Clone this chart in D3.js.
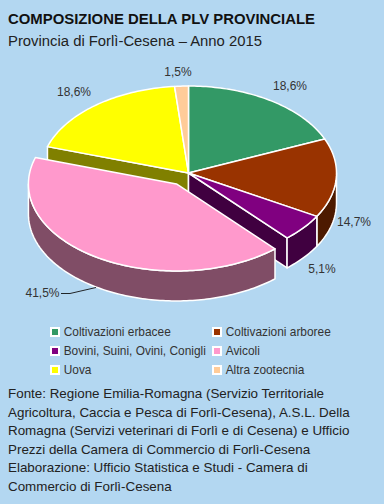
<!DOCTYPE html>
<html><head><meta charset="utf-8">
<script src="https://cdn.jsdelivr.net/npm/d3@7"></script>
<style>html,body{margin:0;padding:0;background:#b3d7f1}svg{display:block}text{font-family:"Liberation Sans",Arial,sans-serif}</style>
</head><body><svg id="c" width="384" height="504"></svg>
<script>
const categories=["Coltivazioni erbacee","Coltivazioni arboree","Bovini, Suini, Ovini, Conigli","Avicoli","Uova","Altra zootecnia"];
const values=[18.6,14.7,5.1,41.5,18.6,1.5];
const valueLabels=["18,6%","14,7%","5,1%","41,5%","18,6%","1,5%"];
const topColors=["#339966","#993300","#800080","#ff99cc","#ffff00","#ffcc99"];
const sideColors=["#1a4d33","#4d1a00","#400040","#804d66","#808000","#806650"];
const explode=[0,0,0,0.15,0,0];
const titleText="COMPOSIZIONE DELLA PLV PROVINCIALE";
const subtitleText="Provincia di Forlì-Cesena – Anno 2015";
const sourceLines=["Fonte: Regione Emilia-Romagna (Servizio Territoriale","Agricoltura, Caccia e Pesca di Forlì-Cesena), A.S.L. Della","Romagna (Servizi veterinari di Forlì e di Cesena) e Ufficio","Prezzi della Camera di Commercio di Forlì-Cesena","Elaborazione: Ufficio Statistica e Studi - Camera di","Commercio di Forlì-Cesena"];

const svg=d3.select("#c");
svg.append("rect").attr("width",384).attr("height",504).attr("fill","#b3d7f1");
const cx=188.5,cy=173,rx=148,ry=87,depth=30;
const arcs=d3.pie().sort(null).value(d=>d)(values);
const pt=(a,k=1)=>[k*rx*Math.sin(a),-k*ry*Math.cos(a)];
const line=d3.line();
const sweep=(a0,a1)=>{const n=Math.max(2,Math.ceil(Math.abs(a1-a0)/0.02));return d3.range(n+1).map(i=>pt(a0+(a1-a0)*i/n));};
const off=i=>{const m=(arcs[i].startAngle+arcs[i].endAngle)/2;const p=pt(m,explode[i]);return [cx+p[0],cy+p[1]];};
const wrap=(i)=>svg.append("g").attr("transform",`translate(${off(i)})`);
const style=s=>s.attr("stroke","#fff").attr("stroke-width",1.5).attr("stroke-linejoin","round");
const drawWall=(i,a)=>{const p=pt(a);
  style(wrap(i).append("path").attr("fill",sideColors[i]).attr("d",line([[0,0],p,[p[0],p[1]+depth],[0,depth]])+"Z"));};
const drawSide=(i)=>{const a0=Math.max(arcs[i].startAngle,Math.PI/2),a1=Math.min(arcs[i].endAngle,3*Math.PI/2);
  if(a1<=a0)return;const t=sweep(a0,a1),b=t.slice().reverse().map(p=>[p[0],p[1]+depth]);
  style(wrap(i).append("path").attr("fill",sideColors[i]).attr("d",line(t.concat(b))+"Z"));};
const drawTop=(i)=>{style(wrap(i).append("path").attr("fill",topColors[i]).attr("d",line([[0,0]].concat(sweep(arcs[i].startAngle,arcs[i].endAngle)))+"Z"));};

drawWall(4,arcs[4].startAngle);
drawWall(2,arcs[2].endAngle);
drawSide(1);drawSide(2);
[0,1,2,4,5].forEach(drawTop);
drawSide(3);drawTop(3);

// title
svg.append("text").attr("x",8).attr("y",24).attr("font-size",15.5).attr("font-weight","bold").attr("fill","#111").attr("textLength",307).attr("lengthAdjust","spacingAndGlyphs").text(titleText);
svg.append("text").attr("x",8).attr("y",45.5).attr("font-size",15.5).attr("fill","#222").attr("textLength",254).attr("lengthAdjust","spacingAndGlyphs").text(subtitleText);

// value labels
const labelPos=[[290,90],[354,226],[322,273],[42.5,297],[74,96],[178,76]];
svg.append("g").selectAll("text").data(valueLabels).join("text")
 .attr("x",(d,i)=>labelPos[i][0]).attr("y",(d,i)=>labelPos[i][1]).attr("text-anchor","middle")
 .attr("font-size",12).attr("fill","#333").text(d=>d);
svg.append("path").attr("d",line([[61,293.5],[70,293.5],[96,287.5]])).attr("fill","none").attr("stroke","#111").attr("stroke-width",0.9);

// legend
const legX=d3.scalePoint().domain([0,1]).range([50,212]);
const legY=d3.scalePoint().domain([0,1,2]).range([332,370]);
const leg=svg.append("g").selectAll("g").data(categories).join("g")
 .attr("transform",(d,i)=>`translate(${legX(i%2)},${legY(Math.floor(i/2))})`);
leg.append("rect").attr("x",0).attr("y",-5).attr("width",10).attr("height",10).attr("fill","#fff");
leg.append("rect").attr("x",2).attr("y",-3).attr("width",6).attr("height",6).attr("fill",(d,i)=>topColors[i]);
leg.append("text").attr("x",13.7).attr("y",3.5).attr("font-size",11.9).attr("fill","#333").text(d=>d);

// source
svg.append("g").selectAll("text").data(sourceLines).join("text")
 .attr("x",8).attr("y",(d,i)=>398+i*18.5).attr("font-size",13.4).attr("fill","#222").text(d=>d);
</script></body></html>
